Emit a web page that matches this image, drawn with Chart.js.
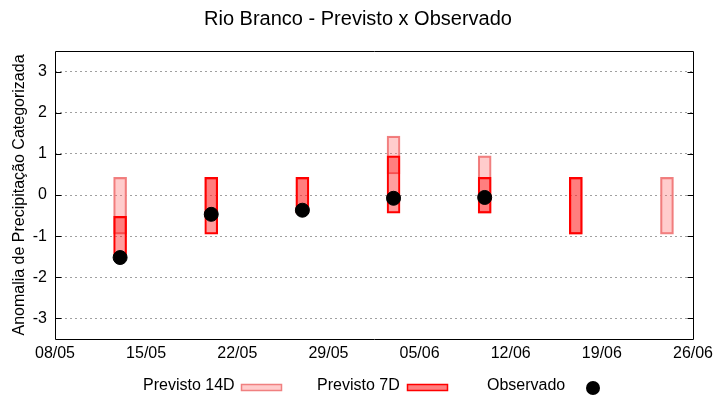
<!DOCTYPE html>
<html>
<head>
<meta charset="utf-8">
<script src="https://cdn.jsdelivr.net/npm/chart.js@4/dist/chart.umd.min.js"></script>
<style>
  html, body { margin: 0; padding: 0; background: #fff; }
</style>
</head>
<body>
<canvas id="chart" width="720" height="400"></canvas>
<script>
// weekly forecast dates
const weeks = ['13/05', '20/05', '27/05', '03/06', '10/06', '17/06', '24/06'];

// Previsto 14D (floating ranges)
const prev14Low  = [-0.95, -0.52, -0.44, 0.51, -0.44, -0.95, -0.95];
const prev14High = [ 0.43,  0.43,  0.43, 1.43,  0.95,  0.43,  0.43];

// Previsto 7D (floating ranges)
const prev7Low  = [-1.45, -0.95, -0.44, -0.44, -0.44, -0.95, null];
const prev7High = [-0.52,  0.43,  0.43,  0.95,  0.43,  0.43, null];

// Observado
const observed = [-1.52, -0.47, -0.37, -0.08, -0.06, null, null];

const xTickLabels = ['08/05', '15/05', '22/05', '29/05', '05/06', '12/06', '19/06', '26/06'];
const yTicks = [-3, -2, -1, 0, 1, 2, 3];

const FONT = "'Liberation Sans', Arial, sans-serif";

// days since the first tick label (dd/mm)
function dayOf(s) {
  const [d, m] = s.split('/').map(Number);
  const [d0, m0] = xTickLabels[0].split('/').map(Number);
  return (Date.UTC(2024, m - 1, d) - Date.UTC(2024, m0 - 1, d0)) / 86400000;
}

function ranges(lows, highs) {
  return weeks
    .map((w, i) => (lows[i] == null ? null : { x: dayOf(w), y: [lows[i], highs[i]] }))
    .filter(Boolean);
}

const obsPoints = weeks
  .map((w, i) => (observed[i] == null ? null : { x: dayOf(w), y: observed[i] }))
  .filter(Boolean);

const C14_FILL = 'rgba(255,100,100,0.33)';
const C14_LINE = '#f08080';
const C7_FILL = 'rgba(255,0,0,0.38)';
const C7_LINE = '#ff0000';

// gnuplot-like frame, title, inward ticks and legend
const frame = {
  id: 'frame',
  afterDraw(chart) {
    const { ctx, chartArea: a, scales } = chart;
    ctx.save();

    ctx.fillStyle = '#000';
    ctx.font = '20px ' + FONT;
    ctx.textAlign = 'center';
    ctx.textBaseline = 'middle';
    ctx.fillText('Rio Branco - Previsto x Observado', 358, 19);

    const l = Math.round(a.left) + 0.5, r = Math.round(a.right) + 0.5;
    const t = Math.round(a.top) + 0.5, b = Math.round(a.bottom) + 0.5;
    ctx.strokeStyle = '#000';
    ctx.lineWidth = 1;
    ctx.beginPath();
    ctx.rect(l, t, r - l, b - t);
    yTicks.forEach((v) => {
      const y = Math.round(scales.y.getPixelForValue(v)) + 0.5;
      ctx.moveTo(l, y); ctx.lineTo(l + 6, y);
      ctx.moveTo(r - 6, y); ctx.lineTo(r, y);
    });
    ctx.stroke();

    // legend
    ctx.font = '16px ' + FONT;
    ctx.textAlign = 'left';
    ctx.fillStyle = '#000';
    ctx.fillText('Previsto 14D', 143, 386);
    ctx.fillText('Previsto 7D', 317, 386);
    ctx.fillText('Observado', 487, 386);

    ctx.lineWidth = 1.5;
    ctx.fillStyle = C14_FILL; ctx.strokeStyle = C14_LINE;
    ctx.fillRect(241.5, 384.5, 40, 6); ctx.strokeRect(241.5, 384.5, 40, 6);
    ctx.fillStyle = 'rgba(255,0,0,0.5)'; ctx.strokeStyle = C7_LINE;
    ctx.fillRect(407.5, 384.5, 40, 6); ctx.strokeRect(407.5, 384.5, 40, 6);

    ctx.fillStyle = '#000';
    ctx.beginPath();
    ctx.arc(593, 388, 7, 0, Math.PI * 2);
    ctx.fill();
    ctx.restore();
  },
};

new Chart(document.getElementById('chart').getContext('2d'), {
  type: 'bar',
  data: {
    datasets: [
      {
        label: 'Observado',
        type: 'scatter',
        data: obsPoints,
        backgroundColor: '#000',
        borderColor: '#000',
        pointRadius: 7,
        pointHoverRadius: 7,
        order: 0,
      },
      {
        label: 'Previsto 7D',
        data: ranges(prev7Low, prev7High),
        backgroundColor: C7_FILL,
        borderColor: C7_LINE,
        borderWidth: 1.5,
        borderSkipped: false,
        barThickness: 13,
        grouped: false,
        order: 1,
      },
      {
        label: 'Previsto 14D',
        data: ranges(prev14Low, prev14High),
        backgroundColor: C14_FILL,
        borderColor: C14_LINE,
        borderWidth: 1.5,
        borderSkipped: false,
        barThickness: 13,
        grouped: false,
        order: 2,
      },
    ],
  },
  options: {
    responsive: false,
    animation: false,
    events: [],
    layout: { padding: { top: 51, right: 27, left: 0, bottom: 0 } },
    plugins: {
      legend: { display: false },
      title: { display: false },
      tooltip: { enabled: false },
    },
    scales: {
      x: {
        type: 'linear',
        min: 0,
        max: dayOf(xTickLabels[xTickLabels.length - 1]),
        offset: false,
        afterBuildTicks(scale) {
          scale.ticks = xTickLabels.map((s) => ({ value: dayOf(s) }));
        },
        afterFit(scale) { scale.height = 61; },
        ticks: {
          color: '#000',
          font: { family: FONT, size: 16 },
          padding: 5,
          maxRotation: 0,
          autoSkip: false,
          callback(v) {
            const i = xTickLabels.findIndex((s) => dayOf(s) === v);
            return i >= 0 ? xTickLabels[i] : '';
          },
        },
        grid: { display: false, offset: false, drawTicks: false },
        border: { display: false },
      },
      y: {
        type: 'linear',
        min: -3.5,
        max: 3.5,
        afterBuildTicks(scale) {
          scale.ticks = yTicks.map((v) => ({ value: v }));
        },
        afterFit(scale) { scale.width = 55; },
        ticks: {
          color: '#000',
          font: { family: FONT, size: 16 },
          padding: 8,
        },
        grid: { color: '#a0a0a0', lineWidth: 1, drawTicks: false },
        border: { display: false, dash: [2, 3] },
        title: {
          display: true,
          text: 'Anomalia de Precipitação Categorizada',
          color: '#000',
          font: { family: FONT, size: 16 },
          padding: { top: 10, bottom: 0 },
        },
      },
    },
  },
  plugins: [frame],
});
</script>
</body>
</html>
